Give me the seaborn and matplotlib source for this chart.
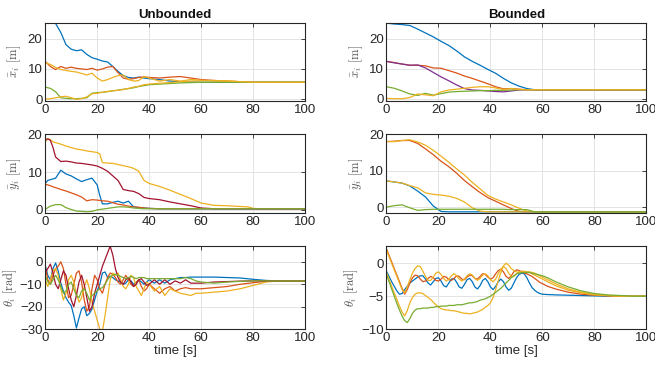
import pandas as pd
import matplotlib
matplotlib.use('Agg')
import matplotlib.pyplot as plt
import seaborn as sns

# MATLAB-ish line colours
BLUE = '#0072BD'
RED = '#D95319'
GOLD = '#EDB120'
ROSE = '#A2142F'
PURPLE = '#7E2F8E'
GREEN = '#77AC30'

# ---- Unbounded, x_bar ----
t_xu = [0, 2, 4, 6, 8, 10, 12, 14, 16, 18, 20, 22, 24, 26, 28, 30, 32, 34, 36, 38, 40,
        44, 48, 52, 56, 60, 65, 70, 75, 80, 90, 100]
xu_blue = [25.3, 25.2, 25.0, 22.0, 18.0, 16.5, 16.0, 16.3, 14.8, 13.7, 13.2, 12.6, 12.3, 10.8, 9.2, 7.8, 7.2, 7.0, 7.3, 7.0, 6.8,
           6.5, 6.0, 5.8, 5.7, 5.6, 5.6, 5.6, 5.6, 5.6, 5.6, 5.6]
xu_red = [12.5, 10.8, 9.8, 10.8, 10.2, 10.6, 10.2, 10.0, 9.8, 10.2, 9.6, 10.0, 10.6, 10.8, 8.8, 7.0, 6.6, 6.8, 7.2, 7.4, 7.2,
          7.0, 7.3, 7.5, 7.0, 6.5, 6.2, 6.0, 5.8, 5.6, 5.6, 5.6]
xu_orange = [12.0, 11.5, 10.5, 9.8, 9.5, 9.2, 9.0, 8.5, 8.0, 8.6, 7.0, 6.0, 6.5, 7.2, 7.8, 8.0, 6.5, 6.0, 6.2, 7.5, 7.0,
             6.0, 6.5, 6.0, 6.5, 6.3, 6.0, 6.0, 5.8, 5.6, 5.6, 5.6]
xu_green = [4.0, 3.6, 2.5, 0.5, 0.3, 0.2, 0.2, 0.3, 0.5, 2.0, 2.2, 2.3, 2.5, 2.8, 3.0, 3.3, 3.5, 3.8, 4.2, 4.5, 4.8,
            5.0, 5.2, 5.4, 5.5, 5.6, 5.6, 5.6, 5.6, 5.6, 5.6, 5.6]
xu_yellow = [0.0, 0.2, 0.5, 0.8, 1.0, 0.5, 0.0, 0.2, 0.8, 1.8, 2.0, 2.3, 2.6, 2.8, 3.0, 3.2, 3.6, 4.0, 4.3, 4.8, 5.0,
             5.3, 5.5, 5.8, 6.0, 6.1, 6.2, 6.0, 5.8, 5.6, 5.6, 5.6]

# ---- Bounded, x_bar ----
t_xb = [0, 3, 6, 9, 12, 15, 18, 21, 24, 27, 30, 33, 36, 39, 42, 45, 48, 51, 54, 57, 60, 70, 80, 90, 100]
xb_blue = [25.3, 25.0, 24.8, 24.5, 23.3, 22.0, 20.7, 19.2, 17.8, 16.0, 14.0, 12.5, 11.2, 9.8, 8.5, 6.8, 5.3, 4.2, 3.4, 3.0,
           3.0, 3.0, 3.0, 3.0, 3.0]
xb_red = [12.5, 12.1, 11.6, 11.2, 11.2, 11.0, 10.3, 10.2, 9.4, 8.6, 7.6, 6.8, 5.9, 5.0, 4.0, 3.3, 3.4, 3.2, 3.0, 3.0,
          3.0, 3.0, 3.0, 3.0, 3.0]
xb_purple = [12.5, 12.0, 11.6, 11.2, 11.3, 10.3, 8.8, 7.3, 6.0, 4.6, 3.4, 2.9, 2.8, 2.6, 2.4, 2.3, 2.6, 2.9, 3.0, 3.0,
             3.0, 3.0, 3.0, 3.0, 3.0]
xb_green = [4.0, 3.5, 2.6, 1.6, 1.1, 1.8, 1.2, 1.7, 2.2, 2.4, 2.5, 2.6, 2.7, 2.7, 2.8, 2.8, 2.9, 3.0, 3.0, 3.0,
            3.0, 3.0, 3.0, 3.0, 3.0]
xb_yellow = [0.1, 0.0, 0.0, 0.4, 1.6, 1.3, 1.0, 2.3, 2.9, 3.2, 3.5, 3.8, 4.0, 4.0, 3.6, 3.1, 3.4, 3.1, 3.0, 3.0,
             3.0, 3.0, 3.0, 3.0, 3.0]

# ---- Unbounded, y_bar ----
t_yu = [0, 1, 2, 3, 4, 6, 8, 10, 12, 14, 16, 18, 20, 21, 22, 24, 26, 28, 30, 32, 34, 36, 38, 40,
        44, 48, 52, 56, 60, 65, 70, 75, 78, 80, 82, 90, 100]
yu_gold = [18.0, 18.8, 18.6, 18.0, 17.8, 17.4, 16.9, 16.5, 16.1, 15.9, 15.6, 15.4, 15.2, 14.8, 12.5,
           12.4, 12.3, 12.0, 11.7, 11.4, 11.0, 10.2, 7.8, 7.0, 6.2, 5.2, 4.1, 3.0, 1.8,
           1.2, 1.1, 0.9, 0.8, 0.4, 0.3, 0.3, 0.3]
yu_rose = [18.6, 18.8, 18.4, 16.5, 14.0, 12.8, 12.9, 12.7, 12.4, 12.3, 12.1, 11.9, 11.6, 11.3, 11.0,
           10.2, 9.0, 7.8, 5.4, 5.1, 4.9, 4.3, 3.3, 3.0, 2.7, 2.1, 1.6, 1.1, 0.5,
           0.3, 0.3, 0.3, 0.3, 0.3, 0.3, 0.3, 0.3]
yu_blue = [7.0, 7.8, 8.0, 8.2, 8.4, 10.5, 9.5, 9.0, 8.2, 7.5, 8.0, 8.4, 6.6, 3.8, 1.6,
           1.6, 2.0, 2.3, 1.8, 2.3, 0.8, 0.6, 0.5, 0.4, 0.3, 0.3, 0.3, 0.3, 0.3,
           0.3, 0.3, 0.3, 0.3, 0.3, 0.3, 0.3, 0.3]
yu_orange = [6.8, 6.6, 6.4, 6.1, 5.9, 5.4, 5.0, 4.5, 4.0, 3.4, 2.4, 2.7, 2.6, 2.5, 2.4,
             2.3, 1.9, 1.5, 1.3, 1.0, 0.8, 0.7, 0.5, 0.4, 0.3, 0.3, 0.3, 0.3, 0.3,
             0.3, 0.3, 0.3, 0.3, 0.3, 0.3, 0.3, 0.3]
yu_green = [0.1, 0.6, 1.0, 1.2, 1.4, 1.4, 0.6, 0.1, -0.3, -0.4, -0.5, -0.4, 0.0, 0.1, 0.2,
            0.4, 0.6, 0.8, 0.8, 0.7, 0.5, 0.4, 0.3, 0.3, 0.3, 0.3, 0.3, 0.3, 0.3,
            0.3, 0.3, 0.3, 0.3, 0.3, 0.3, 0.3, 0.3]

# ---- Bounded, y_bar ----
t_yb = [0, 3, 6, 9, 12, 15, 18, 21, 24, 27, 30, 33, 36, 39, 42, 45, 48, 51, 54, 57, 60, 70, 80, 90, 100]
yb_red = [18.0, 18.1, 18.3, 18.3, 17.5, 16.0, 14.4, 12.6, 11.1, 9.3, 7.3, 5.6, 4.0, 2.6, 1.6, 0.6, -0.4, -1.2, -1.3, -1.3,
          -1.3, -1.3, -1.3, -1.3, -1.3]
yb_gold = [18.0, 18.0, 18.3, 18.5, 17.9, 17.0, 15.6, 14.0, 12.3, 10.5, 8.8, 6.8, 5.0, 3.2, 2.2, 1.4, 0.6, -0.3, -1.1, -1.3,
           -1.3, -1.3, -1.3, -1.3, -1.3]
yb_blue = [7.2, 6.9, 6.6, 5.8, 4.4, 2.8, 0.3, -1.2, -1.3, -1.3, -1.3, -1.3, -1.3, -1.3, -1.3, -1.3, -1.3, -1.3, -1.3, -1.3,
           -1.3, -1.3, -1.3, -1.3, -1.3]
yb_orange = [7.2, 6.9, 6.6, 5.9, 5.3, 3.9, 3.5, 3.3, 3.0, 2.4, 1.4, -0.2, -1.1, -1.3, -1.3, -1.3, -1.3, -1.3, -1.3, -1.3,
             -1.3, -1.3, -1.3, -1.3, -1.3]
yb_green = [0.0, 0.4, 0.6, -0.2, -0.9, -0.7, -0.6, -0.6, -0.6, -0.6, -0.6, -0.6, -0.6, -0.6, -0.6, -0.6, -0.7, -0.7, -0.7, -1.3,
            -1.3, -1.3, -1.3, -1.3, -1.3]

# ---- Unbounded, theta ----
t_tu = [0, 1, 2, 3, 4, 5, 6, 7, 8, 9, 10, 11, 12, 13, 14, 15, 16, 17, 18, 19, 20,
        21, 22, 23, 24, 25, 26, 27, 28, 29, 30, 31, 32, 33, 34, 35, 36, 37, 38, 39, 40,
        42, 44, 46, 48, 50, 52, 54, 56, 58, 60, 65, 70, 75, 80, 85, 90, 100]
tu_blue = [-1.5, -6, -8, -3, -0.5, -4, -9.5, -13, -16, -18, -19.5, -24, -29.5, -25, -21, -20, -24, -23, -21, -17,
           -13, -10, -5, -4.5, -7, -6.5, -7, -8, -8.5, -9, -10, -9.5, -8, -8.5, -10, -9.5, -8, -9, -10, -9, -8,
           -9.5, -8, -9.5, -8, -7.5, -7, -7, -6.8, -6.8, -6.8, -6.8, -7, -7.2, -7.8, -8.3, -8.5, -8.5]
tu_red = [-2, -8, -10, -6, -3, -2, 0, -3, -10, -16, -15, -10, -5, -4, -9, -17, -22, -20, -12, -6,
          -8, -12, -14, -10, -7, -5, -5.5, -7, -9, -10, -8, -6, -8, -10, -11, -9, -8, -11, -13, -12, -10,
          -12, -14, -12, -11, -13, -12, -11.5, -12, -12, -12, -11.5, -11, -10, -9.3, -8.7, -8.5, -8.5]
tu_gold = [-8, -11, -8, -4, -3, -6, -12, -17, -14, -8, -6, -9, -14, -18, -16, -11, -8, -12, -18, -22,
           -26, -30, -31, -24, -16, -8, -5, -6, -5, -8, -11, -12, -10, -6, -7, -11, -13, -15, -12, -9, -10,
           -13, -11, -15, -12, -13, -14, -14.5, -15, -14, -14, -13.5, -13, -12, -10.5, -9, -8.5, -8.5]
tu_rose = [-5, -3, -1, -5, -10, -12, -8, -4, -6, -12, -17, -20, -15, -9, -6, -10, -16, -22, -20, -14,
           -10, -6, -2, 1, 4, 7, 3, -3, -7, -9, -10, -8, -7, -9, -11, -10, -8, -7.5, -9, -10.5, -10,
           -8, -10, -8, -10, -8.5, -9.5, -8, -9.5, -9.5, -9.5, -9, -8.8, -8.6, -8.5, -8.5, -8.5, -8.5]
tu_green = [-6, -9, -10, -8, -6, -8, -11, -14, -13, -10, -9, -12, -15, -16, -13, -12, -14, -17, -15, -14,
            -13, -12, -11.5, -10, -8, -6.5, -6, -5.5, -6, -6.5, -7, -7.5, -7, -6.5, -7, -7.5, -7, -7, -7, -7.5, -7.5,
            -7.5, -7.5, -7.5, -7.5, -7.5, -7.5, -7, -7.5, -8.5, -9, -9.5, -9, -8.7, -8.5, -8.5, -8.5, -8.5]

# ---- Bounded, theta ----
t_tb = [0, 1, 2, 3, 4, 5, 6, 7, 8, 9, 10, 11, 12, 13, 14, 15, 16, 17, 18, 19, 20,
        21, 22, 23, 24, 25, 26, 27, 28, 29, 30, 31, 32, 33, 34, 35, 36, 37, 38, 39, 40,
        41, 42, 43, 44, 45, 46, 47, 48, 49, 50, 51, 52, 53, 54, 55, 56, 57, 58, 59, 60,
        62, 65, 70, 75, 80, 85, 90, 95, 100]
tb_blue = [-1.2, -2.0, -2.8, -3.5, -4.2, -4.7, -4.6, -4.0, -3.5, -3.0, -2.7, -2.4, -2.1, -1.9, -1.9, -2.4, -3.0, -3.3, -2.8, -2.3,
           -2.2, -2.7, -3.4, -3.6, -3.0, -2.4, -2.3, -2.9, -3.6, -3.8, -3.2, -2.5, -2.3, -2.8, -3.6, -3.9, -3.4, -2.6, -2.3, -2.8,
           -3.6, -4.0, -3.5, -2.8, -2.4, -2.8, -3.6, -4.1, -3.8, -3.0, -2.2, -1.7, -1.5, -1.6, -2.2, -3.0, -3.7, -4.1, -4.4, -4.6,
           -4.7, -4.75, -4.8, -4.85, -4.9, -4.95, -5.0, -5.0, -5.0, -5.0]
tb_red = [2.2, 1.2, 0.2, -0.8, -1.8, -2.8, -3.8, -4.7, -4.0, -3.0, -2.2, -1.8, -1.9, -2.4, -2.8, -2.7, -2.3, -2.0, -2.2, -2.6,
          -2.7, -2.4, -2.0, -2.1, -2.5, -2.6, -2.3, -1.9, -2.0, -2.4, -2.5, -2.1, -1.8, -1.9, -2.3, -2.4, -2.0, -1.6, -1.7, -2.1,
          -2.4, -2.2, -1.6, -1.1, -0.9, -1.3, -2.0, -2.3, -1.9, -1.3, -1.0, -1.1, -1.3, -1.5, -1.6, -1.8, -2.0, -2.3, -2.6, -2.9,
          -3.1, -3.5, -3.9, -4.4, -4.7, -4.85, -4.95, -5.0, -5.0, -5.0]
tb_gold = [2.0, 1.0, 0.0, -1.0, -2.0, -3.0, -4.0, -4.5, -3.6, -2.5, -1.5, -0.8, -0.4, -0.5, -1.2, -2.0, -2.6, -2.6, -2.1, -1.5,
           -1.3, -1.7, -2.3, -2.7, -2.4, -1.9, -1.6, -1.9, -2.4, -2.7, -2.4, -1.9, -1.6, -1.8, -2.3, -2.6, -2.3, -1.8, -1.6, -1.9,
           -2.5, -2.8, -2.4, -1.6, -0.9, -0.5, -0.8, -1.5, -2.0, -2.0, -1.6, -1.3, -1.2, -1.2, -1.3, -1.4, -1.6, -1.8, -2.0, -2.2,
           -2.4, -2.8, -3.4, -4.1, -4.5, -4.8, -4.9, -5.0, -5.0, -5.0]
tb_orange = [-1.4, -2.4, -3.5, -4.5, -5.5, -6.5, -7.4, -8.0, -7.2, -6.0, -5.2, -4.7, -4.5, -4.5, -4.6, -4.9, -5.2, -5.5, -5.9, -6.3,
             -6.6, -6.9, -7.0, -7.1, -7.1, -7.2, -7.2, -7.3, -7.4, -7.5, -7.6, -7.6, -7.7, -7.6, -7.5, -7.4, -7.2, -7.0, -6.7, -6.4,
             -6.0, -5.2, -4.0, -2.6, -1.4, -0.4, 0.0, -0.3, -0.8, -1.1, -1.3, -1.4, -1.4, -1.3, -1.3, -1.3, -1.4, -1.5, -1.7, -1.9,
             -2.1, -2.5, -3.1, -3.9, -4.4, -4.7, -4.9, -5.0, -5.0, -5.0]
tb_green = [-1.7, -2.8, -3.9, -5.0, -6.1, -7.1, -8.0, -8.7, -9.0, -8.4, -7.6, -7.1, -6.9, -6.9, -6.8, -6.8, -6.8, -6.7, -6.7, -6.6,
            -6.6, -6.5, -6.5, -6.5, -6.4, -6.4, -6.4, -6.3, -6.3, -6.3, -6.2, -6.1, -6.0, -6.0, -5.9, -5.8, -5.6, -5.5, -5.4, -5.2,
            -5.0, -4.7, -4.4, -4.1, -3.8, -3.4, -3.0, -2.6, -2.2, -1.9, -1.6, -1.5, -1.4, -1.4, -1.4, -1.4, -1.5, -1.6, -1.7, -1.8,
            -1.9, -2.2, -2.8, -3.6, -4.2, -4.6, -4.8, -4.9, -5.0, -5.0]

sns.set_style('white')
plt.rcParams['font.family'] = ['Liberation Sans', 'DejaVu Sans']
plt.rcParams['mathtext.fontset'] = 'cm'

fig = plt.figure(figsize=(6.55, 3.69), dpi=100)

# axes boxes in figure fractions (left, bottom, width, height)
left_x, right_x, w = 0.069, 0.590, 0.397
rows = [(0.726, 0.213), (0.423, 0.213), (0.108, 0.225)]


def draw(ax, t, series, colors):
    frames = []
    for i, vals in enumerate(series):
        frames.append(pd.DataFrame({'t': t, 'v': vals, 'agent': i}))
    df = pd.concat(frames, ignore_index=True)
    sns.lineplot(data=df, x='t', y='v', hue='agent', palette=colors, linewidth=0.9,
                 legend=False, estimator=None, sort=False, ax=ax)


def style(ax, ylim, yticks, ylabel, xlabel=None, lpad=3):
    ax.set_xlim(0, 100)
    ax.set_ylim(*ylim)
    ax.set_xticks([0, 20, 40, 60, 80, 100])
    ax.set_yticks(yticks)
    ax.grid(True, color='#dedede', linewidth=0.6)
    ax.set_axisbelow(True)
    for s in ax.spines.values():
        s.set_color('#262626')
        s.set_linewidth(0.8)
    ax.tick_params(direction='in', length=3, width=0.6, top=True, right=True,
                   labelsize=9.5, colors='#262626', pad=2)
    ax.set_ylabel(ylabel, fontsize=9, color='#555555', labelpad=lpad)
    ax.set_xlabel(xlabel if xlabel else '', fontsize=9.5, color='#262626', labelpad=1)


panels = [
    (left_x, 0, t_xu, [xu_blue, xu_red, xu_orange, xu_green, xu_yellow], [BLUE, RED, GOLD, GREEN, GOLD],
     (-0.6, 25.3), [0, 10, 20], r'$\bar{x}_i\ [\mathrm{m}]$'),
    (right_x, 0, t_xb, [xb_blue, xb_red, xb_purple, xb_green, xb_yellow], [BLUE, RED, PURPLE, GREEN, GOLD],
     (-0.8, 25.5), [0, 10, 20], r'$\bar{x}_i\ [\mathrm{m}]$'),
    (left_x, 1, t_yu, [yu_gold, yu_rose, yu_blue, yu_orange, yu_green], [GOLD, ROSE, BLUE, RED, GREEN],
     (-0.8, 20), [0, 10, 20], r'$\bar{y}_i\ [\mathrm{m}]$'),
    (right_x, 1, t_yb, [yb_red, yb_gold, yb_blue, yb_orange, yb_green], [RED, GOLD, BLUE, GOLD, GREEN],
     (-1.6, 20), [0, 10, 20], r'$\bar{y}_i\ [\mathrm{m}]$'),
    (left_x, 2, t_tu, [tu_blue, tu_red, tu_gold, tu_rose, tu_green], [BLUE, RED, GOLD, ROSE, GREEN],
     (-30, 7), [-30, -20, -10, 0], r'$\theta_i\ [\mathrm{rad}]$'),
    (right_x, 2, t_tb, [tb_blue, tb_red, tb_gold, tb_orange, tb_green], [BLUE, RED, GOLD, GOLD, GREEN],
     (-10, 2.6), [-10, -5, 0], r'$\theta_i\ [\mathrm{rad}]$'),
]

axes = []
for x0, r, t, series, colors, ylim, yticks, ylab in panels:
    b, h = rows[r]
    ax = fig.add_axes([x0, b, w, h])
    draw(ax, t, series, colors)
    style(ax, ylim, yticks, ylab, 'time [s]' if r == 2 else None, lpad=0.5 if r == 2 else 3)
    axes.append(ax)

axes[0].set_title('Unbounded', fontsize=9.5, fontweight='bold', color='#111111', pad=3)
axes[1].set_title('Bounded', fontsize=9.5, fontweight='bold', color='#111111', pad=3)

fig.savefig('out.png', dpi=100)
